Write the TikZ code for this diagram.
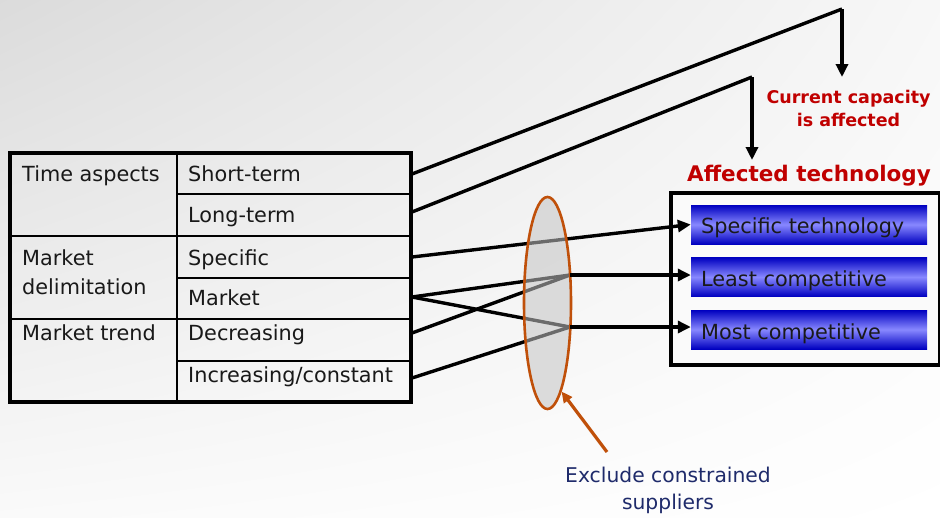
\documentclass[tikz,border=0pt]{standalone}
\usepackage{fontspec}
\setmainfont{DejaVu Sans}
\usetikzlibrary{arrows.meta,shapes.geometric,calc,shadings}
\definecolor{capred}{HTML}{C00000}
\definecolor{exnavy}{HTML}{1F2B6B}
\definecolor{rust}{HTML}{C0500A}
\definecolor{boxdark}{HTML}{0000C0}
\definecolor{boxlight}{HTML}{8888FF}
\definecolor{ellfill}{HTML}{C4C4C4}
\begin{document}
\begin{tikzpicture}[x=1pt,y=-1pt,
  txt/.style={anchor=base west, inner sep=0pt, text=black!90, font=\fontsize{20.8}{24}\selectfont},
  conn/.style={line width=3.4pt, draw=black},
  arr/.style={conn, -{Triangle[length=13pt,width=12pt]}},
  techbox/.style={minimum width=236pt, minimum height=39pt, inner sep=0pt,
    top color=boxdark, bottom color=boxdark, middle color=boxlight},
  redlbl/.style={text=capred, align=center, inner sep=0pt}
]
\useasboundingbox (0,0) rectangle (940,517);
% background
\shade[upper left=black!14, upper right=black!3, lower left=black!2, lower right=white]
  (0,0) rectangle (940,517);

% table
\draw[line width=3.8pt] (10,153) rectangle (411,402);
\draw[line width=2.8pt] (177,153) -- (177,402);
\draw[line width=2.8pt] (10,236) -- (411,236);
\draw[line width=2.8pt] (10,319) -- (411,319);
\draw[line width=2.2pt] (177,194) -- (411,194);
\draw[line width=2.2pt] (177,278) -- (411,278);
\draw[line width=2.2pt] (177,361) -- (411,361);

\node[txt] (time) at (22,181) {Time aspects};
\node[txt] (mdel1) at (22,265) {Market};
\node[txt] (mdel2) at (22,294) {delimitation};
\node[txt] (mtrend) at (22,340) {Market trend};

\node[txt] (short) at (188,181) {Short-term};
\node[txt] (long) at (188,222) {Long-term};
\node[txt] (spec) at (188,265) {Specific};
\node[txt] (mkt) at (188,305.5) {Market};
\node[txt] (decr) at (188,340) {Decreasing};
\node[txt] (incr) at (188,382) {Increasing/constant};

% start points on the table edge
\coordinate (short-e) at (412,174);
\coordinate (long-e) at (412,212);
\coordinate (spec-e) at (412,257);
\coordinate (mkt-e) at (412,297);
\coordinate (decr-e) at (412,333);
\coordinate (incr-e) at (412,378);

% affected technology frame
\node[draw, line width=3.8pt, minimum width=269pt, minimum height=172pt, inner sep=0pt,
  anchor=north west, fill=black!2] (frame) at (669,191) {};
\node[techbox] (b1) at (809,224.5) {};
\node[techbox] (b2) at (809,277) {};
\node[techbox] (b3) at (809,329.5) {};
\node[txt] (b1t) at (701,233) {Specific technology};
\node[txt] (b2t) at (701,286) {Least competitive};
\node[txt] (b3t) at (701,339) {Most competitive};

\node[redlbl, anchor=base, font=\bfseries\fontsize{21.5}{26}\selectfont] (afftech) at (809,181) {Affected technology};
\node[redlbl, anchor=base, font=\bfseries\fontsize{17.5}{23}\selectfont] (curcap) at (848.5,126) {Current capacity\\is affected};

% upper connectors
\coordinate (c1) at (842,9);
\coordinate (t1) at (842,77);
\coordinate (c2) at (752,77);
\coordinate (t2) at (752,160);
\draw[conn, line join=miter] (short-e) -- (c1);
\draw[arr] (c1) -- (t1);
\draw[conn] (long-e) -- (c2);
\draw[arr] (c2) -- (t2);

% hubs at the ellipse
\coordinate (h1) at (570,275);
\coordinate (h2) at (570,327);
\draw[arr] (spec-e) -- (b1.west);
\draw[conn] (mkt-e) -- (h1);
\draw[conn] (decr-e) -- (h1);
\draw[conn] (mkt-e) -- (h2);
\draw[conn] (incr-e) -- (h2);

% ellipse over the lines
\node[ellipse, minimum width=47pt, minimum height=212pt, inner sep=0pt,
  fill=ellfill, fill opacity=0.55, draw=rust, draw opacity=1, line width=2.6pt] (ell) at (547.5,303) {};

\draw[arr] (h1) -- (h1 -| b2.west);
\draw[arr] (h2) -- (h2 -| b3.west);

% exclude note
\node[anchor=base, inner sep=0pt, text=exnavy, align=center, font=\fontsize{20.3}{27}\selectfont] (excl) at (668,509) {Exclude constrained\\suppliers};
\coordinate (ex-tail) at (607,452);
\draw[line width=3.2pt, draw=rust, -{Triangle[length=11pt,width=10pt]}] (ex-tail) -- (ell.-81);
\end{tikzpicture}
\end{document}
